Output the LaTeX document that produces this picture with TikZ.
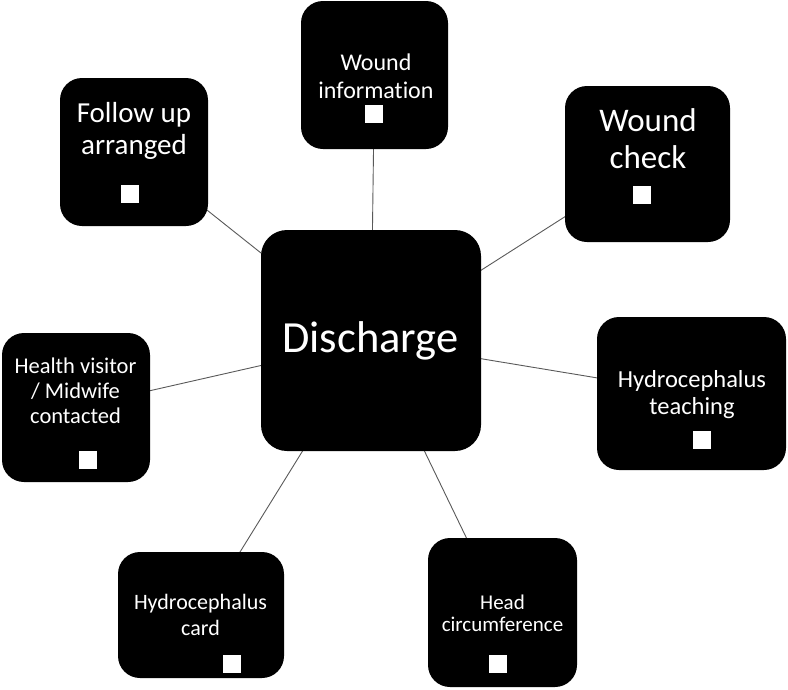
\documentclass[tikz,border=0pt]{standalone}
\usepackage{fontspec}
\setmainfont{Carlito}[Ligatures=NoCommon]
\usetikzlibrary{backgrounds}
\definecolor{linkgray}{HTML}{595959}
\newcommand{\boxfont}[2]{\fontsize{#1}{#2}\selectfont}

\begin{document}
\begin{tikzpicture}[x=1pt,y=-1pt,
 card/.style={fill=black,draw=none,rounded corners=22pt,inner sep=0pt,outer sep=0pt},
 hub/.style={card,rounded corners=26pt},
 txt/.style={text=white,align=center,inner sep=0pt},
 tick/.style={fill=white,draw=none,inner sep=0pt,minimum size=18pt},
 link/.style={draw=linkgray,line width=0.9pt}]
\useasboundingbox (0,0) rectangle (788,689);
\node[hub,minimum width=220pt,minimum height=221pt] (discharge) at (371,340.5) {};
\node[card,minimum width=148pt,minimum height=148pt] (followup) at (134,152) {};
\node[card,minimum width=147pt,minimum height=148pt] (woundinfo) at (374.5,75) {};
\node[card,minimum width=165pt,minimum height=156pt] (woundcheck) at (647.5,164) {};
\node[card,minimum width=189pt,minimum height=153pt] (teaching) at (691.5,393.5) {};
\node[card,minimum width=148pt,minimum height=149pt] (visitor) at (76,407.5) {};
\node[card,minimum width=166pt,minimum height=126pt] (hcard) at (201,615) {};
\node[card,minimum width=149pt,minimum height=149pt] (headcirc) at (502.5,612.5) {};
\node[txt,font=\boxfont{44.5}{50}] (discharge-t) at (370.5,341) {Discharge};
\node[txt,font=\boxfont{29}{32}] (followup-t) at (134,131) {Follow up\\arranged};
\node[txt,font=\boxfont{24}{28}] (woundinfo-t) at (376,76) {Wound\\information};
\node[txt,font=\boxfont{33}{37}] (woundcheck-t) at (648,138.5) {Wound\\check};
\node[txt,font=\boxfont{24.5}{27}] (teaching-t) at (692,394.5) {Hydrocephalus\\teaching};
\node[txt,font=\boxfont{22.5}{25}] (visitor-t) at (75.5,391) {Health visitor\\/ Midwife\\contacted};
\node[txt,font=\boxfont{22}{26}] (hcard-t) at (200.5,615) {Hydrocephalus\\card};
\node[txt,font=\boxfont{21}{22}] (headcirc-t) at (502.5,613) {Head\\circumference};
\node[tick] (followup-sq) at (130,194) {};
\node[tick] (woundinfo-sq) at (374,113.5) {};
\node[tick] (woundcheck-sq) at (641.5,194.5) {};
\node[tick] (teaching-sq) at (701.5,440) {};
\node[tick] (visitor-sq) at (87.5,460) {};
\node[tick] (hcard-sq) at (232,664) {};
\node[tick] (headcirc-sq) at (497.5,664) {};
\begin{scope}[on background layer]
\draw[link] (discharge.center) -- (followup.center);
\draw[link] (discharge.center) -- (woundinfo.center);
\draw[link] (discharge.center) -- (woundcheck.center);
\draw[link] (discharge.center) -- (teaching.center);
\draw[link] (discharge.center) -- (visitor.center);
\draw[link] (discharge.center) -- (hcard.center);
\draw[link] (discharge.center) -- (headcirc.center);
\end{scope}
\end{tikzpicture}
\end{document}
